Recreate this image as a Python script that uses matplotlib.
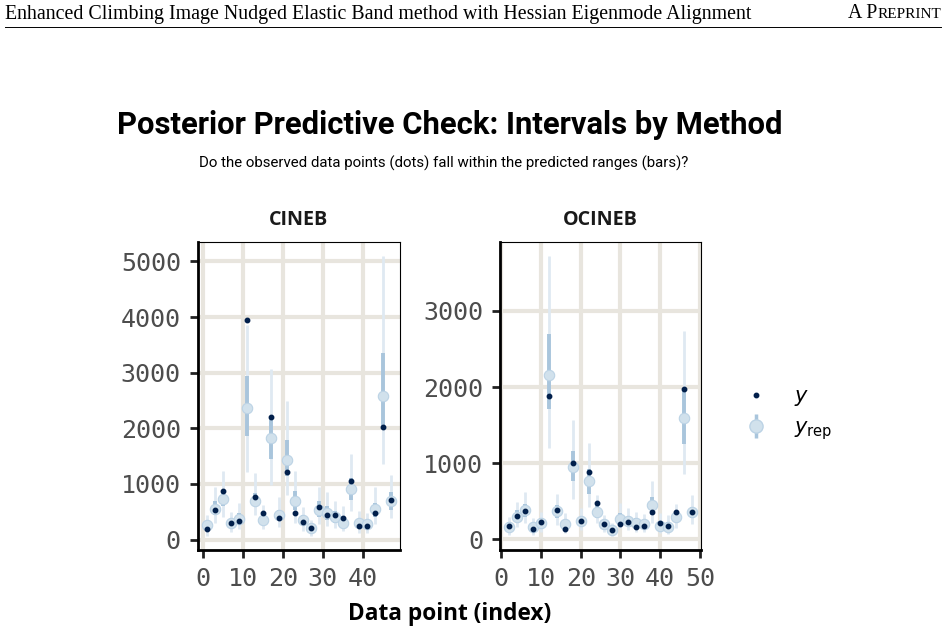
import numpy as np
import matplotlib.pyplot as plt
from matplotlib.lines import Line2D
from matplotlib.legend_handler import HandlerTuple

plt.rcParams['mathtext.fontset'] = 'dejavusans'

# CINEB: odd indices
cineb_idx = [1, 3, 5, 7, 9, 11, 13, 15, 17, 19, 21, 23, 25, 27, 29, 31, 33, 35, 37, 39, 41, 43, 45, 47]
cineb_y = [195, 539, 876, 290, 326, 3955, 770, 480, 2196, 391, 1220, 480, 320, 201, 586, 444, 438, 391, 1060, 237, 237, 480, 2019, 716]
cineb_med = [255, 556, 734, 290, 379, 2362, 699, 361, 1823, 438, 1427, 699, 361, 213, 539, 480, 402, 302, 906, 290, 284, 551, 2587, 687]
cineb_lo50 = [185, 450, 598, 213, 272, 1859, 628, 302, 1444, 332, 1148, 539, 260, 142, 402, 361, 302, 243, 716, 213, 213, 402, 2048, 539]
cineb_hi50 = [330, 687, 864, 361, 480, 2948, 835, 450, 2226, 539, 1794, 876, 450, 272, 687, 598, 509, 420, 1101, 361, 343, 657, 3351, 852]
cineb_lo90 = [65, 302, 402, 142, 184, 1220, 450, 184, 983, 225, 793, 302, 154, 65, 272, 243, 213, 154, 509, 124, 124, 272, 1350, 391]
cineb_hi90 = [450, 953, 1231, 497, 657, 3850, 1190, 628, 3067, 758, 2492, 1231, 580, 361, 953, 852, 687, 598, 1545, 509, 480, 953, 5097, 1160]

# OCINEB: even indices
ocineb_idx = [2, 4, 6, 8, 10, 12, 14, 16, 18, 20, 22, 24, 26, 28, 30, 32, 34, 36, 38, 40, 42, 44, 46, 48]
ocineb_y = [174, 304, 374, 135, 230, 1878, 383, 139, 996, 239, 887, 478, 200, 117, 200, 226, 157, 170, 357, 217, 178, 352, 1970, 352]
ocineb_med = [161, 291, 383, 161, 209, 2157, 370, 200, 948, 239, 761, 357, 200, 122, 270, 239, 209, 200, 448, 178, 165, 291, 1587, 352]
ocineb_lo50 = [122, 230, 296, 109, 152, 1709, 274, 122, 761, 178, 600, 274, 143, 78, 187, 178, 143, 143, 317, 122, 109, 222, 1252, 274]
ocineb_hi50 = [230, 383, 470, 209, 274, 2696, 448, 252, 1165, 296, 926, 448, 252, 165, 339, 296, 274, 252, 557, 239, 230, 370, 1970, 426]
ocineb_lo90 = [57, 165, 209, 57, 100, 1196, 187, 78, 535, 122, 426, 209, 100, 43, 143, 122, 91, 100, 209, 78, 65, 152, 861, 196]
ocineb_hi90 = [296, 491, 622, 274, 361, 3722, 600, 339, 1565, 413, 1265, 587, 317, 209, 483, 413, 352, 326, 761, 339, 317, 470, 2739, 587]

DARK = '#011f4b'
LIGHT = '#d1e1ec'
MID = '#a9c5dc'
OUTER = '#dfe9f2'
GRID = '#e8e5de'

W, H = 948, 632


def fx(x):
    return x / W


def fy(y):
    return 1 - y / H


fig = plt.figure(figsize=(9.48, 6.32), dpi=100)

# paper header
fig.text(fx(5), fy(14), 'Enhanced Climbing Image Nudged Elastic Band method with Hessian Eigenmode Alignment',
         family='Liberation Serif', fontsize=14.3, va='center', ha='left')
rest = fig.text(fx(941), fy(15), 'REPRINT', family='Liberation Serif', fontsize=11,
                va='center', ha='right')
fig.canvas.draw()
bb = rest.get_window_extent()
fig.text(bb.x0 / W, fy(14), 'A P', family='Liberation Serif', fontsize=14.3, va='center', ha='right')
fig.add_artist(Line2D([fx(5), fx(941)], [fy(27), fy(27)], color='black', lw=0.7))

fig.text(fx(450), fy(125), 'Posterior Predictive Check: Intervals by Method',
         family='Roboto', weight='bold', fontsize=22.3, ha='center', va='center')
fig.text(fx(199), fy(163), 'Do the observed data points (dots) fall within the predicted ranges (bars)?',
         family='Roboto', fontsize=10.8, ha='left', va='center')


def panel(rect, title, idx, y, med, lo50, hi50, lo90, hi90, yticks, xticks):
    ax = fig.add_axes(rect)
    ax.vlines(idx, lo90, hi90, color=OUTER, lw=2.0, zorder=2)
    ax.vlines(idx, lo50, hi50, color=MID, lw=2.8, zorder=3)
    ax.plot(idx, med, 'o', ms=7.5, mfc=LIGHT, mec='#bcd3e5', mew=0.8, ls='none', zorder=4)
    ax.plot(idx, y, 'o', ms=3.2, color=DARK, ls='none', zorder=5)
    ax.margins(x=0.05, y=0.05)
    ax.set_xticks(xticks)
    ax.set_yticks(yticks)
    ax.grid(True, color=GRID, lw=3)
    ax.set_axisbelow(True)
    for s in ['left', 'bottom']:
        ax.spines[s].set_linewidth(2.0)
    for s in ['top', 'right']:
        ax.spines[s].set_linewidth(0.8)
    ax.tick_params(length=5.5, width=2.0, color='#222222', labelcolor='#4d4d4d',
                   labelsize=18, pad=6.5)
    for lab in ax.get_xticklabels() + ax.get_yticklabels():
        lab.set_family('DejaVu Sans Mono')
    ax.set_title(title, family='Open Sans', weight='bold', fontsize=14.2, pad=12, color='#1a1a1a')
    return ax


ax1 = panel([fx(197.5), fy(550), fx(400) - fx(197.5), fy(242) - fy(550)], 'CINEB',
            cineb_idx, cineb_y, cineb_med, cineb_lo50, cineb_hi50, cineb_lo90, cineb_hi90,
            [0, 1000, 2000, 3000, 4000, 5000], [0, 10, 20, 30, 40])
ax2 = panel([fx(500), fy(550), fx(701) - fx(500), fy(242) - fy(550)], 'OCINEB',
            ocineb_idx, ocineb_y, ocineb_med, ocineb_lo50, ocineb_hi50, ocineb_lo90, ocineb_hi90,
            [0, 1000, 2000, 3000], [0, 10, 20, 30, 40, 50])

fig.text(fx(450), fy(614), 'Data point (index)', family='Open Sans', weight='bold',
         fontsize=16.3, ha='center', va='center')

h_y = Line2D([], [], marker='o', ms=3.2, color=DARK, ls='none')
h_rep = (Line2D([], [], marker='|', ms=17, mew=2.5, color=MID, ls='none'),
         Line2D([], [], marker='o', ms=9.5, mfc=LIGHT, mec='#bcd3e5', ls='none'))
fig.legend([h_y, h_rep], ['$y$', r'$y_{\mathrm{rep}}$'],
           handler_map={tuple: HandlerTuple(ndivide=1)},
           loc='center left', bbox_to_anchor=(fx(746), fy(414)), frameon=False,
           fontsize=15, handlelength=1.0, handletextpad=1.3, borderpad=0, borderaxespad=0,
           labelspacing=0.45)

fig.savefig('out.png', dpi=100)
